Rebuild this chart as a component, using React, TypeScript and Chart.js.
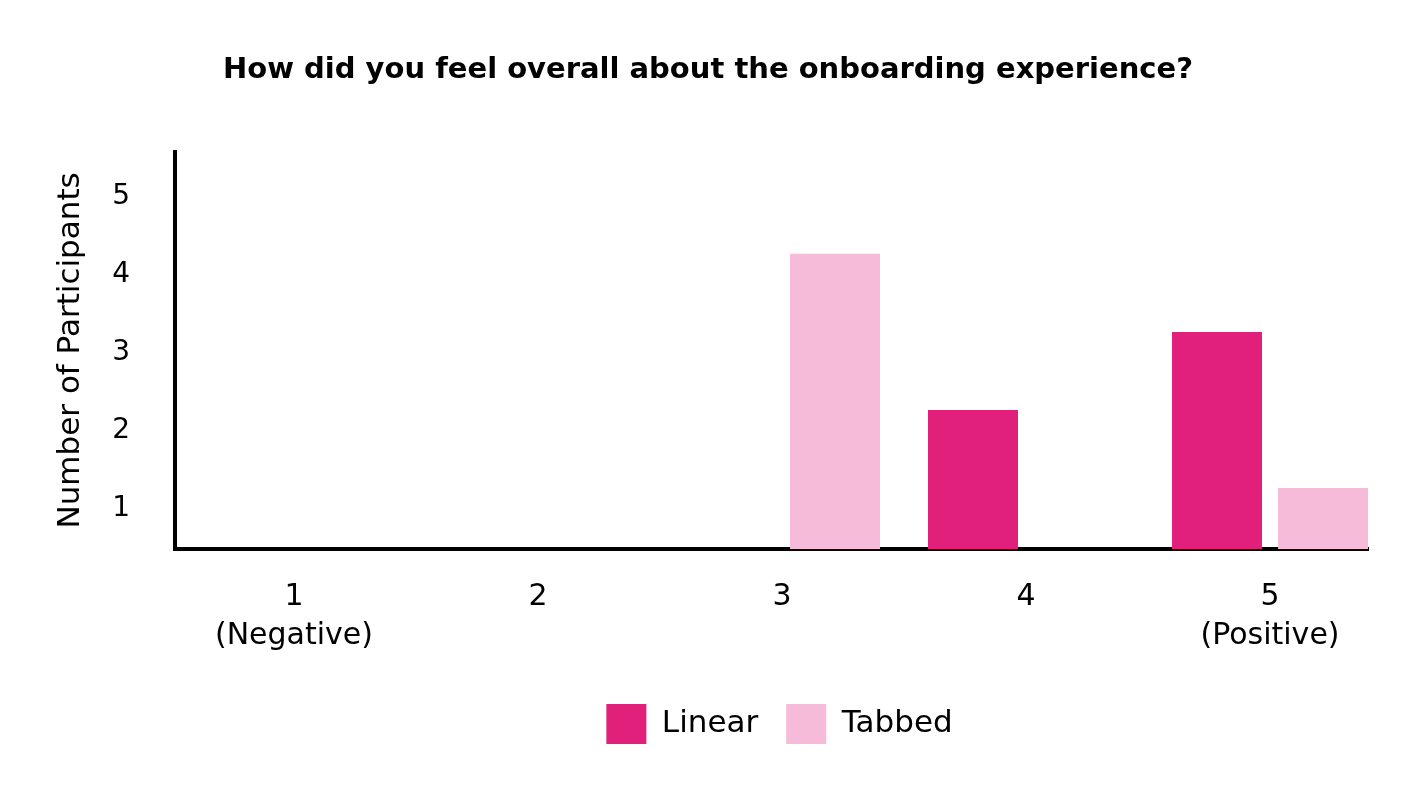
import React, { useEffect, useRef } from "react";
import { Chart, registerables } from "chart.js";

Chart.register(...registerables);

const scores = [1, 2, 3, 4, 5];
const scoreLabels: (string | string[])[] = [["1", "(Negative)"], "2", "3", "4", ["5", "(Positive)"]];
const linearCounts: (number | null)[] = [null, null, null, 2, 3];
const tabbedCounts: (number | null)[] = [null, null, 4, null, 1];
const yTickValues = [1, 2, 3, 4, 5];
const seriesNames = ["Linear", "Tabbed"];
const seriesColors = ["#E0207A", "#F6BBD9"];
const chartTitle = "How did you feel overall about the onboarding experience?";
const yTitle = "Number of Participants";

const FONT = "'DejaVu Sans', sans-serif";

// Fine placement of the title (centred on the whole canvas) and the legend.
const layoutTweaks = {
  id: "layoutTweaks",
  afterLayout(chart: any) {
    const t = chart.titleBlock;
    if (t) {
      t.left = 0;
      t.right = chart.width;
    }
    const l = chart.legend;
    if (l) {
      l.left += 8;
      l.right += 8;
    }
  },
};

export default function App() {
  const ref = useRef<HTMLCanvasElement>(null);
  useEffect(() => {
    document.body.style.margin = "0";
    const chart = new Chart(ref.current as HTMLCanvasElement, {
      type: "bar",
      data: {
        datasets: [
          {
            label: seriesNames[0],
            data: scores.map((x, i) => ({ x, y: linearCounts[i] })) as any,
            backgroundColor: seriesColors[0],
            borderWidth: 0,
            categoryPercentage: 0.869,
            barPercentage: 0.849,
          },
          {
            label: seriesNames[1],
            data: scores.map((x, i) => ({ x, y: tabbedCounts[i] })) as any,
            backgroundColor: seriesColors[1],
            borderWidth: 0,
            categoryPercentage: 0.869,
            barPercentage: 0.849,
          },
        ],
      },
      options: {
        animation: false,
        responsive: false,
        maintainAspectRatio: false,
        layout: { padding: { left: 0, right: 48, top: 0, bottom: 38 } },
        font: { family: FONT },
        plugins: {
          title: {
            display: true,
            text: chartTitle,
            color: "#000",
            font: { family: FONT, size: 29, weight: "bold" },
            padding: { top: 53, bottom: 64 },
          },
          legend: {
            display: true,
            position: "bottom",
            fullSize: false,
            labels: {
              boxWidth: 40,
              boxHeight: 40,
              padding: 28,
              color: "#000",
              font: { family: FONT, size: 31 },
            },
          },
          tooltip: { enabled: false },
        },
        scales: {
          x: {
            type: "linear",
            min: 0.5123,
            max: 5.4016,
            offset: false,
            grid: { display: false, drawTicks: false },
            border: { display: true, color: "#000", width: 4 },
            afterBuildTicks: (scale: any) => {
              scale.ticks = scores.map((v) => ({ value: v }));
            },
            afterFit: (scale: any) => {
              scale.height = 127;
            },
            ticks: {
              autoSkip: false,
              maxRotation: 0,
              minRotation: 0,
              padding: 29,
              color: "#000",
              font: { family: FONT, size: 30, lineHeight: "39px" },
              callback: (_v: any, i: number) => scoreLabels[i],
            },
          },
          y: {
            type: "linear",
            min: 0.218,
            max: 5.308,
            grid: { display: false, drawTicks: false },
            border: { display: true, color: "#000", width: 4 },
            afterBuildTicks: (scale: any) => {
              scale.ticks = yTickValues.map((v) => ({ value: v }));
            },
            afterFit: (scale: any) => {
              scale.width = 175;
            },
            ticks: {
              padding: 45,
              labelOffset: 21,
              color: "#000",
              font: { family: FONT, size: 28 },
              callback: (v: any) => String(v),
            },
            title: {
              display: true,
              text: yTitle,
              color: "#000",
              font: { family: FONT, size: 31 },
              padding: { top: 52, bottom: 0 },
            },
          },
        },
      } as any,
      plugins: [layoutTweaks],
    });
    return () => chart.destroy();
  }, []);
  return <canvas ref={ref} width={1416} height={792} style={{ display: "block" }} />;
}
